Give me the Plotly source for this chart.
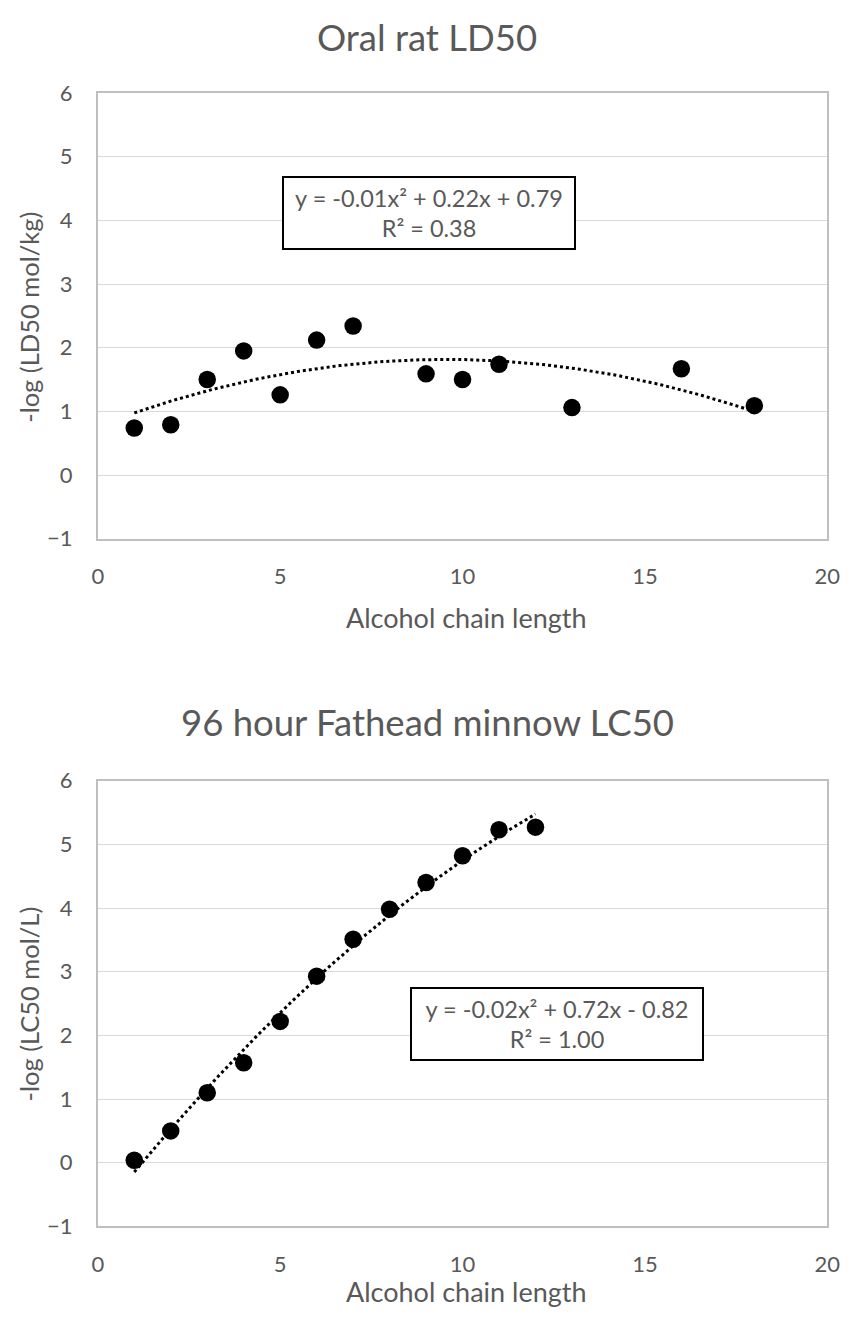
import numpy as np
import plotly.graph_objects as go

# ---- data ----
rat_chain = [1, 2, 3, 4, 5, 6, 7, 9, 10, 11, 13, 16, 18]
rat_neglog_ld50 = [0.74, 0.79, 1.50, 1.95, 1.26, 2.12, 2.34, 1.59, 1.50, 1.74, 1.06, 1.67, 1.09]

fish_chain = [1, 2, 3, 4, 5, 6, 7, 8, 9, 10, 11, 12]
fish_neglog_lc50 = [0.04, 0.50, 1.10, 1.57, 2.22, 2.93, 3.51, 3.98, 4.40, 4.82, 5.23, 5.27]

titles = ["Oral rat LD50", "96 hour Fathead minnow LC50"]
y_titles = ["-log (LD50 mol/kg)", "-log (LC50 mol/L)"]
x_title = "Alcohol chain length"
eq_texts = ["y = -0.01x² + 0.22x + 0.79<br>R² = 0.38",
            "y = -0.02x² + 0.72x - 0.82<br>R² = 1.00"]
x_ticks = [0, 5, 10, 15, 20]
y_ticks = [-1, 0, 1, 2, 3, 4, 5, 6]

FONT = "Lato"
GRAY = "#595959"
W, H = 853, 1321

def fx(t):
    # target pixel x -> paper fraction
    return ((t - 5) / 0.980) / W

def fy(t):
    # target pixel y -> paper fraction (from bottom)
    return 1 - ((t - 13) / 0.980) / H

fig = go.Figure()

datasets = [(rat_chain, rat_neglog_ld50), (fish_chain, fish_neglog_lc50)]
for i, (xs, ys) in enumerate(datasets):
    xa = "x" if i == 0 else "x2"
    ya = "y" if i == 0 else "y2"
    coef = np.polyfit(xs, ys, 2)
    xf = np.linspace(min(xs), max(xs), 200)
    yf = np.polyval(coef, xf)
    fig.add_trace(go.Scatter(x=xf, y=yf, mode="lines", xaxis=xa, yaxis=ya,
                             line=dict(color="black", width=3, dash="dot"),
                             showlegend=False, hoverinfo="skip"))
    fig.add_trace(go.Scatter(x=xs, y=ys, mode="markers", xaxis=xa, yaxis=ya,
                             marker=dict(color="black", size=17.5),
                             showlegend=False))

x_dom = [fx(97), 840 / W]
y_doms = [[fy(538), fy(92)], [fy(1226), fy(780)]]

axis_common = dict(gridcolor="#d9d9d9", gridwidth=1,
                   showline=True, linecolor="#bfbfbf", linewidth=1.5, mirror=True,
                   zeroline=False, ticks="",
                   tickfont=dict(family=FONT, size=22, color=GRAY))

for i in range(2):
    sfx = "" if i == 0 else "2"
    fig.update_layout(**{
        "xaxis" + sfx: dict(axis_common, showgrid=False, domain=x_dom, range=[0, 20],
                            tickvals=x_ticks, ticklabelstandoff=17,
                            ticklabeloverflow="allow",
                            anchor="y" + sfx),
        "yaxis" + sfx: dict(axis_common, showgrid=True, domain=y_doms[i], range=[-1, 6],
                            tickvals=y_ticks, ticklabelstandoff=19,
                            anchor="x" + sfx),
    })

annotations = []
title_y = [36, 721]
xt_y = [fy(617), 1 - 1304 / H]
yt_y = [316, 1003]
eq_pos = [(9.08, 4.11), (12.58, 2.18)]
for i in range(2):
    sfx = "" if i == 0 else "2"
    annotations.append(dict(text=titles[i], x=fx(427), y=fy(title_y[i]),
                            xref="paper", yref="paper", showarrow=False,
                            xanchor="center", yanchor="middle",
                            font=dict(family=FONT, size=36.5, color=GRAY)))
    annotations.append(dict(text=x_title, x=fx(467), y=xt_y[i],
                            xref="paper", yref="paper", showarrow=False,
                            xanchor="center", yanchor="middle",
                            font=dict(family=FONT, size=27, color=GRAY)))
    annotations.append(dict(text=y_titles[i], x=fx(28), y=fy(yt_y[i]),
                            xref="paper", yref="paper", showarrow=False,
                            xanchor="center", yanchor="middle", textangle=-90,
                            font=dict(family=FONT, size=25.5, color=GRAY)))
    annotations.append(dict(text=eq_texts[i], x=eq_pos[i][0], y=eq_pos[i][1],
                            xref="x" + sfx, yref="y" + sfx, showarrow=False,
                            xanchor="center", yanchor="middle",
                            width=288, height=68, borderpad=1,
                            bordercolor="black", borderwidth=2, bgcolor="white",
                            font=dict(family=FONT, size=23.5, color=GRAY)))

fig.update_layout(width=W, height=H, margin=dict(l=0, r=0, t=0, b=0),
                  paper_bgcolor="white", plot_bgcolor="white",
                  annotations=annotations)

fig.write_html("out.html", config={"displayModeBar": False},
               post_script="document.body.style.margin='0';document.body.style.overflow='hidden';")
